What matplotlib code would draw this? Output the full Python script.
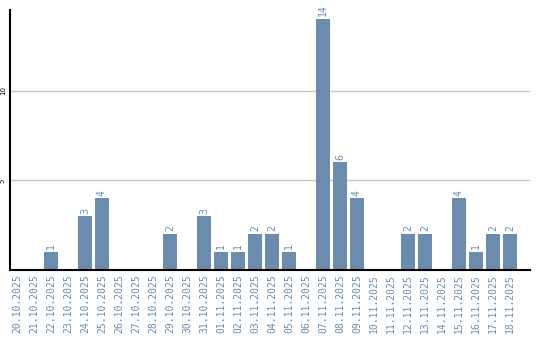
import matplotlib
matplotlib.use("Agg")
import matplotlib.pyplot as plt

# Daten
tage = ["20.10.2025", "21.10.2025", "22.10.2025", "23.10.2025", "24.10.2025",
        "25.10.2025", "26.10.2025", "27.10.2025", "28.10.2025", "29.10.2025",
        "30.10.2025", "31.10.2025", "01.11.2025", "02.11.2025", "03.11.2025",
        "04.11.2025", "05.11.2025", "06.11.2025", "07.11.2025", "08.11.2025",
        "09.11.2025", "10.11.2025", "11.11.2025", "12.11.2025", "13.11.2025",
        "14.11.2025", "15.11.2025", "16.11.2025", "17.11.2025", "18.11.2025"]
anzahl = [0, 0, 1, 0, 3, 4, 0, 0, 0, 2,
          0, 3, 1, 1, 2, 2, 1, 0, 14, 6,
          4, 0, 0, 2, 2, 0, 4, 1, 2, 2]

farbe = "#6b8cad"

fig = plt.figure(figsize=(5.4, 3.4), dpi=100)
ax = fig.add_axes([10 / 540, 70 / 340, 520 / 540, 260 / 340])

x = list(range(len(tage)))
ax.bar(x, anzahl, width=0.82, color=farbe, zorder=2)

# Werte ueber den Balken
for xi, wert in zip(x, anzahl):
    if wert > 0:
        ax.text(xi, wert + 0.15, str(wert), rotation=90, ha="center", va="bottom",
                color=farbe, fontsize=7, family="DejaVu Sans Mono")

ax.set_xlim(-0.41, 30.18)
ax.set_ylim(0, 14.5)
ax.set_xticks(x)
ax.set_xticklabels(tage, rotation=90, color=farbe, fontsize=7, family="DejaVu Sans Mono")
ax.set_yticks([5, 10])
ax.set_yticklabels(["5", "10"], rotation=90, fontsize=5, va="center")
ax.tick_params(length=0, pad=3)

ax.yaxis.grid(True, color="#c8c8c8", linewidth=1, zorder=0)
for s in ["top", "right"]:
    ax.spines[s].set_visible(False)
ax.spines["left"].set_linewidth(1.5)
ax.spines["bottom"].set_linewidth(1.5)

fig.savefig("out.png", dpi=100)
